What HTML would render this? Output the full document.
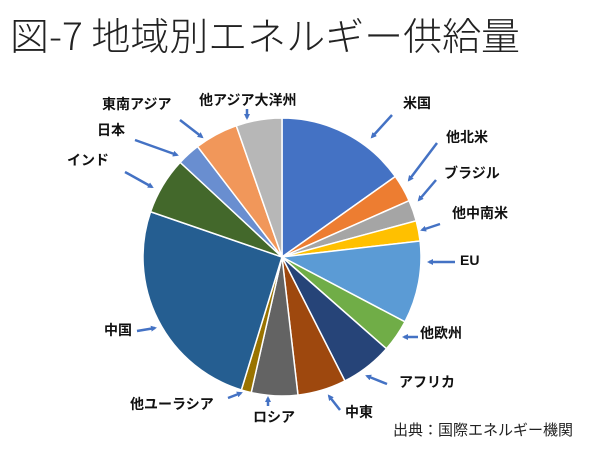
<!DOCTYPE html>
<html><head><meta charset="utf-8"><style>
body{margin:0;background:#fff;width:600px;height:451px;overflow:hidden}
svg text{font-family:"Liberation Sans","Noto Sans CJK JP",sans-serif}
</style></head><body>
<svg id="s" width="600" height="451" viewBox="0 0 600 451" xmlns="http://www.w3.org/2000/svg">
<defs><marker id="a" markerWidth="6" markerHeight="6" refX="4" refY="3" orient="auto" markerUnits="userSpaceOnUse"><path d="M0,0 L6,3 L0,6 z" fill="#4472C4"/></marker></defs>
<text x="10" y="50" font-size="38" fill="#222" textLength="510" lengthAdjust="spacingAndGlyphs" style="font-family:'Noto Sans CJK JP',sans-serif;font-weight:300">図-7 地域別エネルギー供給量</text>
<g id="pie"></g>
<g stroke="#4472C4" stroke-width="2.5" marker-end="url(#a)">
<line x1="392" y1="115" x2="372" y2="137"/>
<line x1="437" y1="143" x2="409" y2="180"/>
<line x1="436" y1="180" x2="419" y2="200"/>
<line x1="440" y1="224" x2="422" y2="230"/>
<line x1="455" y1="262" x2="429" y2="262"/>
<line x1="418" y1="337" x2="404" y2="337"/>
<line x1="387" y1="384" x2="367" y2="376"/>
<line x1="340" y1="410" x2="329" y2="396"/>
<line x1="268" y1="406" x2="268" y2="398"/>
<line x1="228" y1="398" x2="241" y2="393"/>
<line x1="137" y1="331" x2="155" y2="328"/>
<line x1="125" y1="172" x2="152" y2="187"/>
<line x1="135" y1="140" x2="177" y2="155"/>
<line x1="180" y1="120" x2="202" y2="137"/>
<line x1="247" y1="109" x2="247" y2="118"/>
</g>
<g font-size="14" font-weight="bold" fill="#111">
<text x="403" y="108">米国</text>
<text x="446" y="142">他北米</text>
<text x="444" y="178">ブラジル</text>
<text x="452" y="218">他中南米</text>
<text x="460" y="265">EU</text>
<text x="420" y="338">他欧州</text>
<text x="399" y="387">アフリカ</text>
<text x="345" y="417">中東</text>
<text x="253" y="422">ロシア</text>
<text x="130" y="409">他ユーラシア</text>
<text x="104" y="335">中国</text>
<text x="67" y="165">インド</text>
<text x="97" y="135">日本</text>
<text x="102" y="109">東南アジア</text>
<text x="199" y="105">他アジア大洋州</text>
</g>
<text x="393" y="435" font-size="15" fill="#222">出典：国際エネルギー機関</text>
</svg>
<script>
var cx=282,cy=257,r=139;
var b=[0,54.6,66.1,74.9,83.4,117.8,131.3,153.1,173.4,192.8,197.0,289.0,312.9,322.6,340.8,360];
var c=["#4472C4","#ED7D31","#A5A5A5","#FFC000","#5B9BD5","#70AD47","#264478","#9E480E","#636363","#997300","#255E91","#43682B","#698ED0","#F1975A","#B7B7B7"];
var g=document.getElementById("pie"),h="";
function p(a){a=a*Math.PI/180;return (cx+r*Math.sin(a)).toFixed(2)+","+(cy-r*Math.cos(a)).toFixed(2);}
for(var i=0;i<c.length;i++){var l=(b[i+1]-b[i])>180?1:0;
h+='<path d="M'+cx+','+cy+' L'+p(b[i])+' A'+r+','+r+' 0 '+l+' 1 '+p(b[i+1])+' Z" fill="'+c[i]+'" stroke="#fff" stroke-width="1.5"/>';}
g.innerHTML=h;
</script>
</body></html>
